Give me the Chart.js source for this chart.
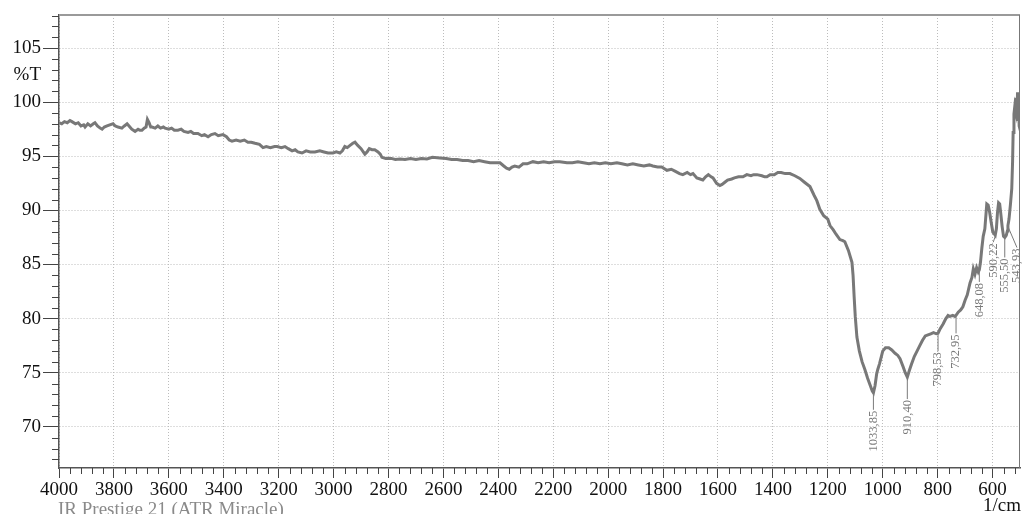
<!DOCTYPE html>
<html>
<head>
<meta charset="utf-8">
<script src="https://cdn.jsdelivr.net/npm/chart.js@4.4.1/dist/chart.umd.min.js"></script>
<style>
  html, body { margin: 0; padding: 0; background: #ffffff; }
  #wrap { width: 1022px; height: 514px; position: relative; }
</style>
</head>
<body>
<div id="wrap"><canvas id="spectrum" width="1022" height="514"></canvas></div>
<script>
// ATR-IR spectrum, wavenumber (1/cm) vs transmittance (%T)
const wavenumbers = [
  4000, 3990, 3980, 3970, 3960, 3953, 3940, 3930, 3920, 3910, 3905, 3895, 3885, 3875, 3869, 3860,
  3850, 3843, 3835, 3825, 3815, 3803, 3795, 3785, 3771, 3762, 3752, 3745, 3735, 3723, 3712, 3705,
  3698, 3690, 3683, 3678, 3672, 3666, 3661, 3650, 3640, 3630, 3620, 3614, 3600, 3590, 3580, 3567,
  3555, 3545, 3530, 3520, 3510, 3494, 3480, 3470, 3457, 3445, 3432, 3420, 3403, 3390, 3380, 3370,
  3355, 3340, 3325, 3312, 3300, 3286, 3270, 3257, 3245, 3230, 3215, 3206, 3190, 3177, 3165, 3151,
  3140, 3130, 3115, 3100, 3085, 3068, 3050, 3035, 3020, 3002, 2990, 2977, 2968, 2959, 2950, 2940,
  2930, 2922, 2912, 2900, 2886, 2878, 2870, 2860, 2850, 2838, 2830, 2824, 2810, 2790, 2775, 2758,
  2740, 2720, 2700, 2680, 2660, 2640, 2613, 2590, 2570, 2550, 2530, 2510, 2490, 2470, 2450, 2430,
  2410, 2394, 2380, 2370, 2360, 2350, 2340, 2325, 2310, 2295, 2274, 2255, 2235, 2215, 2195, 2176,
  2150, 2130, 2110, 2090, 2070, 2050, 2030, 2010, 1990, 1968, 1950, 1930, 1910, 1890, 1870, 1850,
  1837, 1820, 1805, 1786, 1770, 1755, 1740, 1728, 1712, 1700, 1691, 1677, 1665, 1655, 1645, 1635,
  1625, 1618, 1605, 1593, 1585, 1575, 1565, 1550, 1540, 1525, 1509, 1495, 1480, 1470, 1458, 1440,
  1430, 1422, 1410, 1395, 1382, 1370, 1355, 1338, 1320, 1302, 1285, 1265, 1250, 1240, 1229, 1215,
  1200, 1192, 1180, 1170, 1156, 1145, 1138, 1125, 1112, 1108, 1104, 1100, 1094, 1085, 1075, 1065,
  1055, 1045, 1038, 1033.85, 1028, 1022, 1018, 1012, 1005, 1000, 990, 978, 967, 955, 945, 937,
  925, 918, 910.40, 903, 895, 885, 875, 865, 855, 845, 835, 825, 815, 805, 798.53, 790,
  780, 770, 762, 755, 745, 737, 732.95, 725, 716, 708, 700, 692, 682, 675, 670, 664,
  658, 652, 648.08, 644, 639, 634, 628, 621, 616, 611, 605, 599, 593, 590.22, 586, 582,
  578, 574, 570, 565, 560, 555.50, 550, 546, 543.93, 540, 535, 530, 527, 525, 522, 519,
  516, 514, 511, 509, 507, 505, 503, 501
];

const transmittance = [
  98.1, 98.0, 98.2, 98.1, 98.3, 98.2, 98.0, 98.1, 97.8, 97.9, 97.7, 98.0, 97.8, 98.0, 98.1, 97.8,
  97.6, 97.5, 97.7, 97.8, 97.9, 98.0, 97.8, 97.7, 97.6, 97.8, 98.0, 97.8, 97.5, 97.3, 97.5, 97.4,
  97.4, 97.6, 97.7, 98.4, 98.1, 97.7, 97.7, 97.6, 97.8, 97.6, 97.7, 97.6, 97.5, 97.6, 97.4, 97.4,
  97.5, 97.3, 97.2, 97.3, 97.1, 97.1, 96.9, 97.0, 96.8, 97.0, 97.1, 96.9, 97.0, 96.8, 96.5, 96.4,
  96.5, 96.4, 96.5, 96.3, 96.3, 96.2, 96.1, 95.8, 95.9, 95.8, 95.9, 95.9, 95.8, 95.9, 95.7, 95.5,
  95.6, 95.4, 95.3, 95.5, 95.4, 95.4, 95.5, 95.4, 95.3, 95.3, 95.4, 95.3, 95.5, 95.9, 95.8, 96.0,
  96.2, 96.3, 96.0, 95.7, 95.2, 95.4, 95.7, 95.6, 95.6, 95.4, 95.2, 94.9, 94.8, 94.8, 94.7, 94.75,
  94.7, 94.8, 94.7, 94.8, 94.75, 94.9, 94.85, 94.8, 94.7, 94.7, 94.6, 94.6, 94.5, 94.6, 94.5, 94.4,
  94.4, 94.4, 94.1, 93.9, 93.8, 94.0, 94.1, 94.0, 94.3, 94.3, 94.5, 94.4, 94.5, 94.4, 94.5, 94.5,
  94.4, 94.4, 94.5, 94.4, 94.3, 94.4, 94.3, 94.4, 94.3, 94.4, 94.3, 94.2, 94.3, 94.2, 94.1, 94.2,
  94.1, 94.0, 94.0, 93.7, 93.8, 93.6, 93.4, 93.3, 93.5, 93.3, 93.4, 93.0, 92.9, 92.8, 93.1, 93.3,
  93.1, 93.0, 92.5, 92.3, 92.4, 92.6, 92.8, 92.9, 93.0, 93.1, 93.1, 93.3, 93.2, 93.3, 93.3, 93.2,
  93.1, 93.1, 93.3, 93.3, 93.5, 93.5, 93.4, 93.4, 93.2, 92.95, 92.6, 92.2, 91.4, 90.9, 90.1, 89.5,
  89.2, 88.6, 88.2, 87.8, 87.3, 87.2, 87.1, 86.3, 85.2, 84.0, 82.0, 80.2, 78.3, 77.0, 76.0, 75.3,
  74.5, 73.8, 73.3, 73.15, 73.8, 74.9, 75.3, 75.8, 76.5, 77.0, 77.3, 77.3, 77.1, 76.8, 76.6, 76.3,
  75.5, 75.0, 74.6, 75.2, 75.8, 76.5, 77.0, 77.5, 78.0, 78.4, 78.5, 78.6, 78.7, 78.6, 78.65, 79.1,
  79.5, 80.0, 80.3, 80.2, 80.3, 80.2, 80.3, 80.6, 80.8, 81.1, 81.7, 82.2, 83.3, 83.8, 84.6, 84.1,
  84.7, 84.3, 84.5, 85.2, 86.5, 87.6, 88.3, 90.6, 90.5, 89.9, 88.9, 88.0, 87.8, 87.7, 88.3, 89.8,
  90.7, 90.6, 89.7, 88.5, 87.6, 87.5, 87.7, 88.1, 88.6, 89.2, 90.5, 92.0, 94.5, 97.2, 98.9, 99.6,
  99.2, 100.4, 98.5, 100.9, 98.4, 100.5, 97.8, 97.6
];

// Axis tick values
const xTickValues = [4000, 3800, 3600, 3400, 3200, 3000, 2800, 2600, 2400, 2200, 2000, 1800, 1600, 1400, 1200, 1000, 800, 600];
const yTickValues = [70, 75, 80, 85, 90, 95, 100, 105];

// Peak picks
const peakWavenumbers = [1033.85, 910.40, 798.53, 732.95, 648.08, 590.22, 555.50, 543.93];
const peakLabels = ["1033,85", "910,40", "798,53", "732,95", "648,08", "590,22", "555,50", "543,93"];

const serif = '"Liberation Serif", "DejaVu Serif", serif';

// Lead line length and horizontal shift of each peak label (px)
const peakLead = [17, 22, 18, 18, 12, 7, 20, 22];
const peakShift = [0, 0, 0, 0, 0, -2, 0, 9];

const decorations = {
  id: 'decorations',
  afterDraw(chart) {
    const ctx = chart.ctx;
    const area = chart.chartArea;
    const xs = chart.scales.x;
    const ys = chart.scales.y;
    ctx.save();

    // minor ticks
    ctx.strokeStyle = '#444';
    ctx.lineWidth = 1;
    ctx.beginPath();
    for (let v = 520; v <= 4000; v += 40) {
      if (v % 200 === 0) continue;
      const px = Math.round(xs.getPixelForValue(v)) + 0.5;
      ctx.moveTo(px, area.bottom);
      ctx.lineTo(px, area.bottom + 6);
    }
    for (let v = 67; v <= 108; v += 1) {
      if (v % 5 === 0) continue;
      const py = Math.round(ys.getPixelForValue(v)) + 0.5;
      ctx.moveTo(area.left - 7, py);
      ctx.lineTo(area.left, py);
    }
    ctx.stroke();

    // frame: top and right
    ctx.strokeStyle = '#9a9a9a';
    ctx.lineWidth = 2;
    ctx.beginPath();
    ctx.moveTo(area.left, area.top);
    ctx.lineTo(area.right, area.top);
    ctx.stroke();
    ctx.strokeStyle = '#777';
    ctx.lineWidth = 1;
    ctx.beginPath();
    ctx.moveTo(area.right - 0.5, area.top);
    ctx.lineTo(area.right - 0.5, area.bottom);
    ctx.stroke();

    // axis unit labels
    ctx.fillStyle = '#111';
    ctx.font = '19px ' + serif;
    ctx.textAlign = 'right';
    ctx.textBaseline = 'middle';
    ctx.fillText('%T', area.left - 18, ys.getPixelForValue(102.5));
    ctx.textBaseline = 'alphabetic';
    ctx.fillText('1/cm', 1021, 511);

    ctx.fillStyle = '#8a8a8a';
    ctx.textAlign = 'left';
    ctx.fillText('IR Prestige 21 (ATR Miracle)', 58, 515);

    // peak labels
    ctx.save();
    ctx.beginPath();
    ctx.rect(area.left, area.top, area.right - area.left + 2, area.bottom - area.top);
    ctx.clip();
    ctx.font = '12.5px ' + serif;
    ctx.fillStyle = '#7a7a7a';
    ctx.strokeStyle = '#7a7a7a';
    ctx.lineWidth = 1;
    peakWavenumbers.forEach((wn, i) => {
      const idx = wavenumbers.indexOf(wn);
      const px = xs.getPixelForValue(wn);
      const py = ys.getPixelForValue(transmittance[idx]);
      const tx = px + peakShift[i];
      const ty = py + peakLead[i];
      ctx.beginPath();
      ctx.moveTo(px, py + 1);
      ctx.lineTo(tx, ty);
      ctx.stroke();
      ctx.save();
      ctx.translate(tx, ty + 1);
      ctx.rotate(-Math.PI / 2);
      ctx.textAlign = 'right';
      ctx.textBaseline = 'middle';
      ctx.fillText(peakLabels[i], 0, 0);
      ctx.restore();
    });
    ctx.restore();

    ctx.restore();
  }
};

new Chart(document.getElementById('spectrum'), {
  type: 'line',
  data: {
    datasets: [{
      data: wavenumbers.map((w, i) => ({ x: w, y: transmittance[i] })),
      borderColor: '#787878',
      borderWidth: 3,
      pointRadius: 0,
      tension: 0,
      fill: false
    }]
  },
  options: {
    responsive: false,
    devicePixelRatio: 1,
    animation: false,
    layout: { padding: { top: 15, right: 2, left: 0, bottom: 0 } },
    plugins: { legend: { display: false }, tooltip: { enabled: false } },
    scales: {
      x: {
        type: 'linear',
        reverse: true,
        min: 500,
        max: 4000,
        afterBuildTicks: (s) => { s.ticks = xTickValues.map(v => ({ value: v })); },
        afterFit: (s) => { s.height = 46; },
        ticks: {
          autoSkip: false,
          maxRotation: 0,
          padding: 1,
          color: '#111',
          font: { family: serif, size: 19 },
          callback: (v) => String(v)
        },
        grid: {
          color: '#bcbcbc',
          lineWidth: 1,
          drawTicks: true,
          tickLength: 10,
          tickColor: '#444',
          tickWidth: 1
        },
        border: { display: true, color: '#555', width: 1.5, dash: [1, 2] }
      },
      y: {
        type: 'linear',
        min: 66.2,
        max: 108.05,
        afterBuildTicks: (s) => { s.ticks = yTickValues.map(v => ({ value: v })); },
        afterFit: (s) => { s.width = 59; },
        ticks: {
          padding: 2,
          color: '#111',
          font: { family: serif, size: 19 },
          callback: (v) => String(v)
        },
        grid: {
          color: '#bcbcbc',
          lineWidth: 1,
          drawTicks: true,
          tickLength: 16,
          tickColor: '#444',
          tickWidth: 1
        },
        border: { display: true, color: '#555', width: 1.5, dash: [1, 2] }
      }
    }
  },
  plugins: [decorations]
});
</script>
</body>
</html>
